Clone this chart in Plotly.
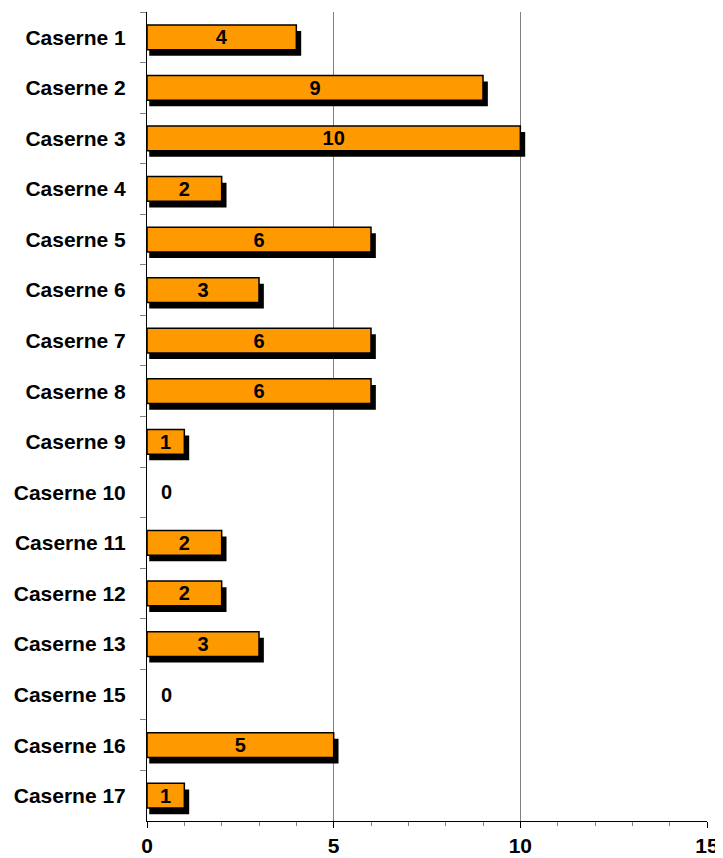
import plotly.graph_objects as go

categories = ["Caserne 1", "Caserne 2", "Caserne 3", "Caserne 4", "Caserne 5", "Caserne 6",
              "Caserne 7", "Caserne 8", "Caserne 9", "Caserne 10", "Caserne 11", "Caserne 12",
              "Caserne 13", "Caserne 15", "Caserne 16", "Caserne 17"]
values = [4, 9, 10, 2, 6, 3, 6, 6, 1, 0, 2, 2, 3, 0, 5, 1]
x_tick_values = [0, 5, 10, 15]

# style
ORANGE = "#FF9900"
BAR_W = 0.49
SH_DX = 0.13      # shadow shift along x (data units)
SH_BASE = 0.06
SH_DY = 0.12      # shadow shift along category axis
FONT = "Liberation Sans"

shadow_len = [(v + SH_DX - SH_BASE) if v > 0 else None for v in values]

fig = go.Figure()
fig.add_trace(go.Bar(
    y=categories, x=shadow_len, base=SH_BASE, orientation="h",
    width=BAR_W, offset=-BAR_W / 2 + SH_DY,
    marker=dict(color="black", line=dict(width=0)),
    hoverinfo="skip", showlegend=False,
))
fig.add_trace(go.Bar(
    y=categories, x=[v if v > 0 else None for v in values], orientation="h", width=BAR_W,
    marker=dict(color=ORANGE, line=dict(color="black", width=1.5)),
    text=[str(v) if v > 0 else "" for v in values],
    textposition="inside", insidetextanchor="middle", constraintext="none", textangle=0,
    textfont=dict(family=FONT, size=20, color="black", weight="bold"),
    hoverinfo="skip", showlegend=False,
))

for c, v in zip(categories, values):
    if v == 0:
        fig.add_annotation(x=v, y=c, text=str(v), showarrow=False, xanchor="center",
                           xshift=19, font=dict(family=FONT, size=20, color="black", weight="bold"))

# page body has an 8px default margin, so the figure is sized to fit the 723x858 window
fig.update_layout(
    width=715, height=850,
    margin=dict(l=139, r=16, t=4, b=37, autoexpand=False),
    barmode="overlay",
    plot_bgcolor="white", paper_bgcolor="white",
    font=dict(family=FONT, color="black"),
)
fig.update_xaxes(
    range=[0, 15], tickvals=x_tick_values, ticktext=[str(t) for t in x_tick_values],
    automargin=False,
    showline=True, linecolor="black", linewidth=1,
    showgrid=True, gridcolor="#808080", gridwidth=1,
    zeroline=False,
    ticks="outside", ticklen=6, tickcolor="black",
    ticklabelstandoff=0,
    minor=dict(dtick=1, ticks="outside", ticklen=4, tickcolor="#808080", showgrid=False),
    tickfont=dict(family=FONT, size=21, color="black", weight="bold"),
)
fig.update_yaxes(
    autorange="reversed", type="category", automargin=False,
    showline=True, linecolor="black", linewidth=1,
    showgrid=False, tickson="boundaries",
    ticks="outside", ticklen=6, tickcolor="#808080",
    ticklabelstandoff=16,
    tickfont=dict(family=FONT, size=21, color="black", weight="bold"),
)

fig.write_html("out.html")
